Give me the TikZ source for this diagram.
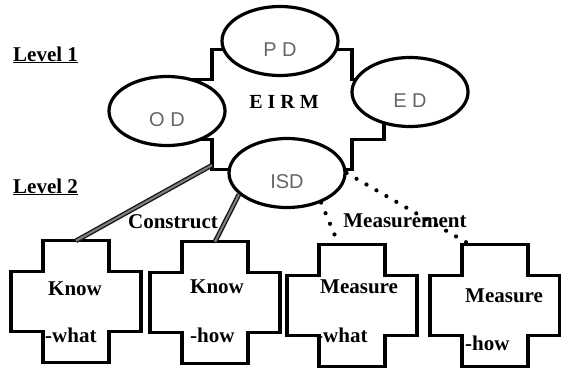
\documentclass[tikz,border=0pt]{standalone}
\usepackage{fontspec}
\setmainfont{Liberation Serif}
\newfontfamily\domainfont{Liberation Sans}
\usepackage{tikz}
\usetikzlibrary{shapes.geometric, calc}

% outline of a plus-shaped box round a node: node, arm half-width, bar half-width, arm length, bar height
\newcommand{\plusoutline}[5]{%
  \draw[plusline] (#1.north) ++(-#2,0) -- ++(2*#2,0) -- ++(0,#4) -- ++(#3-#2,0) -- ++(0,#5)
    -- ++(#2-#3,0) -- ++(0,#4) -- ++(-2*#2,0) -- ++(0,-#4) -- ++(#2-#3,0) -- ++(0,-#5)
    -- ++(#3-#2,0) -- cycle;
}

\begin{document}
\begin{tikzpicture}[
    x=1pt, y=-1pt,
    plusline/.style={line width=3.2pt},
    crossbox/.style={rectangle, inner sep=0pt, minimum width=130pt, minimum height=122pt},
    dombox/.style={ellipse, draw, line width=3.2pt, fill=white, minimum width=116pt, minimum height=69pt,
                   inner sep=0pt, text height=30pt, text depth=0pt, text=black!60,
                   font=\fontsize{20}{20}\selectfont\domainfont},
    word/.style={font=\fontsize{21}{21}\selectfont\bfseries, inner sep=0pt},
    construct/.style={draw=black!90, double=black!50, line width=1.4pt, double distance=2pt},
    measure/.style={line width=4.2pt, line cap=round, dash pattern=on 0pt off 11.5pt},
]
    \useasboundingbox (0,0) rectangle (561,370);

    % Level 1
    \node[crossbox, minimum width=204pt, minimum height=120pt] (eirm) at (282,110) {};
    \plusoutline{eirm}{70}{102}{30}{60}
    \node[word, font=\fontsize{20}{20}\selectfont\bfseries] (eirmtext) at (284,102) {E I R M};

    \node[dombox] (pd) at (280,41) {P~D};
    \node[dombox] (od) at (167,111) {O~D};
    \node[dombox] (ed) at (410,92) {E~D};
    \node[dombox] (isd) at (287,173) {ISD};

    \node[word, anchor=base west] (lvl1) at (13,61) {\underline{Level 1}};
    \node[word, anchor=base west] (lvl2) at (13,193) {\underline{Level 2}};

    % Level 2
    \node[crossbox] (kw) at (76,302) {};
    \node[crossbox] (kh) at (215,303) {};
    \node[crossbox] (mw) at (352,306) {};
    \node[crossbox] (mh) at (495,306) {};
    \plusoutline{kw}{33}{65}{31}{60}
    \plusoutline{kh}{33}{65}{31}{60}
    \plusoutline{mw}{33}{65}{31}{60}
    \plusoutline{mh}{33}{65}{31}{60}

    \node[word, anchor=base west] (kw1) at (48,295) {Know};
    \node[word, anchor=base west] (kw2) at (45,342) {-what};
    \node[word, anchor=base west] (kh1) at (190,293) {Know};
    \node[word, anchor=base west] (kh2) at (190,342) {-how};
    \node[word, anchor=base west] (mw1) at (320,293) {Measure};
    \node[word, anchor=base west] (mw2) at (316,342) {-what};
    \node[word, anchor=base west] (mh1) at (465,302) {Measure};
    \node[word, anchor=base west] (mh2) at (465,350) {-how};

    \draw[construct] ($(eirm.south)+(-70,-5)$) -- (kw.north);
    \draw[construct] (isd.204) -- (kh.north);
    \draw[measure] (isd.319) -- ($(mw.north)+(-14,-2)$);
    \draw[measure] (isd.east) -- ($(mh.north)+(-28,-2)$);

    \node[word] (constr) at (173,222) {Construct};
    \node[word] (measr) at (405,221) {Measurement};
\end{tikzpicture}
\end{document}
